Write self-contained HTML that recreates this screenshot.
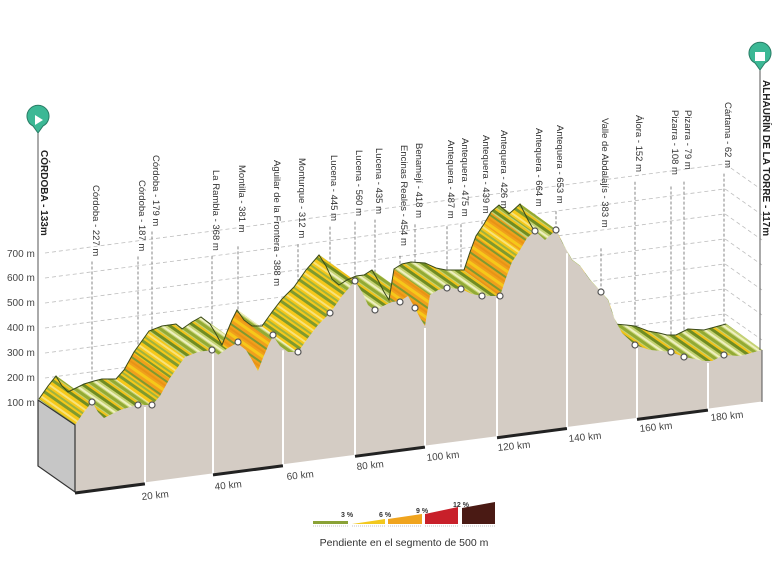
<!DOCTYPE html>
<html><head><meta charset="utf-8"><style>
html,body{margin:0;padding:0;background:#fff;}
svg{display:block;font-family:"Liberation Sans",sans-serif;}
.lb{font-size:9.5px;fill:#333;}
.bd{font-size:10px;font-weight:bold;fill:#222;}
.ax{font-size:10px;fill:#444;}
</style></head><body>
<svg id="s" width="780" height="585" viewBox="0 0 780 585" xmlns="http://www.w3.org/2000/svg">
<defs>
<pattern id="pg" width="14" height="14" patternUnits="userSpaceOnUse" patternTransform="rotate(35)">
<rect width="14" height="14" fill="#c5d273"/><rect y="0" width="14" height="3" fill="#6f8c22"/><rect y="5" width="14" height="2" fill="#eef0c0"/><rect y="8" width="14" height="3" fill="#92aa34"/><rect y="12" width="14" height="2" fill="#f1c21b"/>
</pattern>
<pattern id="py" width="14" height="14" patternUnits="userSpaceOnUse" patternTransform="rotate(35)">
<rect width="14" height="14" fill="#f6c81a"/><rect y="0" width="14" height="3" fill="#7f9a2e"/><rect y="6" width="14" height="2" fill="#f7e27a"/><rect y="10" width="14" height="2" fill="#9fb33e"/>
</pattern>
<pattern id="po" width="14" height="14" patternUnits="userSpaceOnUse" patternTransform="rotate(35)">
<rect width="14" height="14" fill="#f0a01c"/><rect y="0" width="14" height="3" fill="#f6c81a"/><rect y="6" width="14" height="2" fill="#7f9a2e"/><rect y="10" width="14" height="2" fill="#e99316"/>
</pattern>
</defs>
<g id="grid" stroke="#bdbdbd" stroke-width="0.8" stroke-dasharray="4,3" fill="none"></g>
<g class="ax">
<text x="7" y="257">700 m</text><text x="7" y="281">600 m</text><text x="7" y="306">500 m</text>
<text x="7" y="331">400 m</text><text x="7" y="356">300 m</text><text x="7" y="381">200 m</text><text x="7" y="406">100 m</text>
</g>
<g id="vl" stroke="#666" stroke-width="0.8" stroke-dasharray="3,2"></g>
<g id="rib"></g>
<path id="front" fill="#d4ccc4"/>
<path d="M38,400 L75,425 L75,492 L38,466 Z" fill="#c6c6c6" stroke="#333" stroke-width="1.2"/>
<g id="div" stroke="#fff" stroke-width="2"></g>
<g id="base"></g>
<g id="dots" fill="#fff" stroke="#555" stroke-width="1.2"></g>
<g id="labs"></g>
<line x1="38" y1="130" x2="38" y2="400" stroke="#555" stroke-width="1"/>
<path d="M38,133 L33,126 A11,11 0 1 1 43,126 Z" fill="#3cb895" stroke="#2a7d66" stroke-width="1"/>
<path d="M35,115 L43,120 L35,125 Z" fill="#fff"/>
<text class="bd" transform="translate(41,150) rotate(90)">CÓRDOBA - 133m</text>
<line x1="760" y1="68" x2="760" y2="350" stroke="#555" stroke-width="1"/>
<path d="M760,70 L755,63 A11,11 0 1 1 765,63 Z" fill="#3cb895" stroke="#2a7d66" stroke-width="1"/>
<rect x="755" y="52" width="10" height="9" fill="#fff"/>
<text class="bd" transform="translate(763,80) rotate(90)">ALHAURÍN DE LA TORRE - 117m</text>
<g class="ax">
<text transform="translate(142,500) rotate(-6)">20 km</text>
<text transform="translate(215,490) rotate(-6)">40 km</text>
<text transform="translate(287,480) rotate(-6)">60 km</text>
<text transform="translate(357,470) rotate(-6)">80 km</text>
<text transform="translate(427,461) rotate(-6)">100 km</text>
<text transform="translate(498,451) rotate(-6)">120 km</text>
<text transform="translate(569,442) rotate(-6)">140 km</text>
<text transform="translate(640,432) rotate(-6)">160 km</text>
<text transform="translate(711,421) rotate(-6)">180 km</text>
</g>
<g>
<rect x="313" y="521" width="35" height="3" fill="#8aa236"/>
<path d="M352,524 L385,524 L385,519 Z" fill="#f2c81e"/>
<path d="M388,524 L422,524 L422,514 L388,519 Z" fill="#f0a41e"/>
<path d="M425,524 L458,524 L458,507 L425,514 Z" fill="#c8202a"/>
<path d="M462,524 L495,524 L495,502 L462,508 Z" fill="#4a1a14"/>
<g stroke="#888" stroke-width="0.6" stroke-dasharray="1,1"><line x1="313" y1="526" x2="348" y2="526"/><line x1="352" y1="526" x2="385" y2="526"/><line x1="388" y1="526" x2="422" y2="526"/><line x1="425" y1="526" x2="458" y2="526"/><line x1="462" y1="526" x2="495" y2="526"/></g>
<g font-size="7" font-weight="bold" fill="#333"><text x="341" y="517">3 %</text><text x="379" y="517">6 %</text><text x="416" y="513">9 %</text><text x="453" y="507">12 %</text></g>
<text x="404" y="546" font-size="10.5" fill="#333" text-anchor="middle">Pendiente en el segmento de 500 m</text>
</g>
</svg>
<script>
var NS="http://www.w3.org/2000/svg";
function el(t,a,p){var e=document.createElementNS(NS,t);for(var k in a)e.setAttribute(k,a[k]);document.getElementById(p).appendChild(e);return e;}
var P=[[75,425],[84,412],[92,402],[98,412],[104,418],[112,414],[120,410],[130,407],[138,405],[145,405],[152,405],[160,396],[170,378],[185,357],[198,352],[212,350],[218,355],[228,348],[237,343],[246,350],[252,360],[258,371],[263,358],[268,346],[273,336],[280,346],[288,352],[298,352],[308,338],[318,325],[330,313],[342,296],[355,281],[362,292],[368,305],[375,311],[383,306],[392,302],[400,301],[408,296],[415,308],[420,318],[425,326],[430,295],[438,290],[447,288],[461,289],[472,294],[482,296],[492,296],[500,296],[506,278],[512,262],[520,250],[527,238],[535,231],[545,240],[556,230],[564,246],[572,260],[580,266],[590,280],[601,292],[608,300],[614,318],[622,333],[635,345],[650,350],[662,351],[671,352],[684,357],[695,359],[703,361],[712,361],[724,355],[740,356],[762,350]];
var dx=-36,dy=-26;
for(var h=1;h<=7;h++){var y=403-(h-1)*25;el("path",{d:"M45,"+y+" L725,"+(y-(680)*0.131)+" L762,"+(y-680*0.131+26)},"grid");}
for(var i=0;i<P.length-1;i++){var a=P[i],b=P[i+1];var s=(a[1]-b[1])/(b[0]-a[0]+0.01);var f=s>1.6?"url(#po)":(s>0.9?"url(#py)":"url(#pg)");
el("path",{d:"M"+a[0]+","+a[1]+" L"+b[0]+","+b[1]+" L"+(b[0]+dx)+","+(b[1]+dy)+" L"+(a[0]+dx)+","+(a[1]+dy)+"Z",fill:f,stroke:f,"stroke-width":0.6},"rib");}
var bk="M"+(P[0][0]+dx)+","+(P[0][1]+dy);for(i=1;i<P.length;i++)bk+=" L"+(P[i][0]+dx)+","+(P[i][1]+dy);
el("path",{d:bk,fill:"none",stroke:"#3a4a1a","stroke-width":1},"rib");
function by(x){return 492-(x-75)*0.131;}
var d="M75,"+by(75);for(i=0;i<P.length;i++)d+=" L"+P[i][0]+","+P[i][1];d+=" L762,"+by(762)+"Z";
document.getElementById("front").setAttribute("d",d);
var pk=[145,213,283,355,425,497,567,637,708];
pk.forEach(function(x){var yt=0;for(var j=0;j<P.length-1;j++)if(P[j][0]<=x&&P[j+1][0]>=x){yt=P[j][1]+(P[j+1][1]-P[j][1])*(x-P[j][0])/(P[j+1][0]-P[j][0]);}el("line",{x1:x,y1:yt+2,x2:x,y2:by(x)},"div");});
var bx=[75].concat(pk).concat([762]);
for(i=0;i<bx.length-1;i++){el("line",{x1:bx[i],y1:by(bx[i])+1,x2:bx[i+1],y2:by(bx[i+1])+1,stroke:i%2?"#fff":"#222","stroke-width":3},"base");}
el("line",{x1:762,y1:350,x2:762,y2:by(762),stroke:"#555","stroke-width":1},"base");
var L=[["Córdoba - 227 m",92,185,402],["Córdoba - 187 m",138,180,405],["Córdoba - 179 m",152,155,405],["La Rambla - 368 m",212,170,350],["Montilla - 381 m",238,165,342],["Aguilar de la Frontera - 388 m",273,160,335],["Monturque - 312 m",298,158,352],["Lucena - 445 m",330,155,313],["Lucena - 560 m",355,150,281],["Lucena - 435 m",375,148,310],["Encinas Reales - 454 m",400,145,302],["Benamejí - 418 m",415,143,308],["Antequera - 487 m",447,140,288],["Antequera - 475 m",461,138,289],["Antequera - 439 m",482,135,296],["Antequera - 426 m",500,130,296],["Antequera - 664 m",535,128,231],["Antequera - 653 m",556,125,230],["Valle de Abdalajís - 383 m",601,118,292],["Álora - 152 m",635,115,345],["Pizarra - 108 m",671,110,352],["Pizarra - 79 m",684,110,357],["Cártama - 62 m",724,102,355]];
L.forEach(function(l){var len=l[0].length*4.9;el("line",{x1:l[1],y1:l[2]+len+3,x2:l[1],y2:l[3]},"vl");el("circle",{cx:l[1],cy:l[3],r:3},"dots");
var t=el("text",{"class":"lb",transform:"translate("+(l[1]+1)+","+l[2]+") rotate(90)"},"labs");t.textContent=l[0];});
</script>
</body></html>
